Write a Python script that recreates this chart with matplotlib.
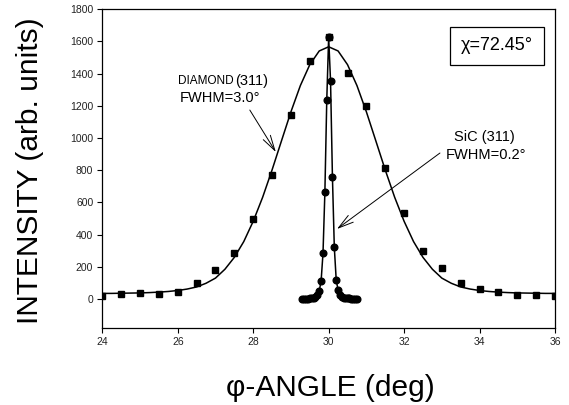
import numpy as np
import matplotlib
matplotlib.use("Agg")
import matplotlib.pyplot as plt

plt.rcParams['font.family'] = ['Liberation Sans', 'DejaVu Sans']

# === DATA ===
# DIAMOND (311) measured points, square markers
diamond_phi = [24.0, 24.5, 25.0, 25.5, 26.0, 26.5, 27.0, 27.5, 28.0, 28.5, 29.0, 29.5,
               30.0, 30.5, 31.0, 31.5, 32.0, 32.5, 33.0, 33.5, 34.0, 34.5, 35.0, 35.5, 36.0]
diamond_int = [21, 31, 36, 31, 42, 97, 180, 284, 495, 768, 1141, 1478,
               1625, 1406, 1199, 816, 536, 298, 191, 101, 60, 43, 23, 25, 17]

# DIAMOND fitted curve, sampled every 0.25 deg from 24 to 36
fit_phi = list(np.linspace(24, 36, 49))
fit_int = [35, 35, 36, 37, 38, 40, 43, 47, 53, 62, 75, 98, 130, 185, 259, 357,
           483, 632, 802, 983, 1163, 1326, 1456, 1541,
           1567,
           1541, 1456, 1326, 1163, 983, 802, 632, 483, 357, 259, 185, 130, 98,
           75, 62, 53, 47, 43, 40, 38, 37, 36, 35, 35]

# SiC (311) points, round markers
sic_phi = [29.3, 29.35, 29.4, 29.45, 29.5, 29.55, 29.6, 29.65, 29.7, 29.75, 29.8, 29.85,
           29.9, 29.95, 30.0, 30.05, 30.1, 30.15, 30.2, 30.25, 30.3, 30.35, 30.4, 30.45,
           30.5, 30.55, 30.6, 30.65, 30.7, 30.75]
sic_int = [2, 2, 3, 3, 4, 5, 7, 12, 22, 50, 112, 284,
           663, 1236, 1625, 1356, 760, 321, 120, 54, 24, 13, 8, 6,
           5, 4, 3, 3, 2, 2]

x_ticks = [24, 26, 28, 30, 32, 34, 36]
y_ticks = [0, 200, 400, 600, 800, 1000, 1200, 1400, 1600, 1800]

# === PLOT ===
fig = plt.figure(figsize=(5.69, 4.05), dpi=100)
ax = fig.add_axes([0.1798, 0.1909, 0.7956, 0.7862])

ax.plot(fit_phi, fit_int, color='black', lw=1.1, zorder=2)
ax.plot(sic_phi, sic_int, color='black', lw=1.1, marker='o', markersize=4.8, zorder=3)
ax.plot(diamond_phi, diamond_int, ls='none', color='black', marker='s', markersize=4.8, zorder=4)

ax.set_xlim(24, 36)
ax.set_ylim(-178, 1800)
ax.set_xticks(x_ticks)
ax.set_yticks(y_ticks)
ax.tick_params(direction='out', length=3.5, width=0.8, labelsize=7.5, pad=3,
               labelcolor='#222222')
for s in ax.spines.values():
    s.set_linewidth(0.9)

# annotations
arrow = dict(arrowstyle='->, head_length=1.1, head_width=0.3', color='black', lw=0.7,
             shrinkA=0, shrinkB=0, mutation_scale=10)
ax.annotate('', xy=(28.6, 913), xytext=(27.91, 1174), arrowprops=arrow)
ax.annotate('', xy=(30.22, 435), xytext=(32.95, 907), arrowprops=arrow)

ax.text(27.47, 1354, 'DIAMOND', fontsize=8.5, ha='right', va='center')
ax.text(27.52, 1354, '(311)', fontsize=10.5, ha='left', va='center')
ax.text(27.12, 1249, 'FWHM=3.0°', fontsize=10.5, ha='center', va='center')

ax.text(34.14, 1006, 'SiC (311)', fontsize=10.5, ha='center', va='center')
ax.text(34.16, 895, 'FWHM=0.2°', fontsize=10.5, ha='center', va='center')

ax.text(34.46, 1572, 'χ=72.45°', fontsize=13, ha='center', va='center',
        bbox=dict(boxstyle='square,pad=0.6', fc='white', ec='black', lw=0.9))

fig.text(0.053, 0.578, 'INTENSITY (arb. units)', fontsize=21.5, rotation=90,
         ha='center', va='center')
fig.text(0.58, 0.042, 'φ-ANGLE (deg)', fontsize=21.5, ha='center', va='center')

fig.savefig('out.png', dpi=100)
